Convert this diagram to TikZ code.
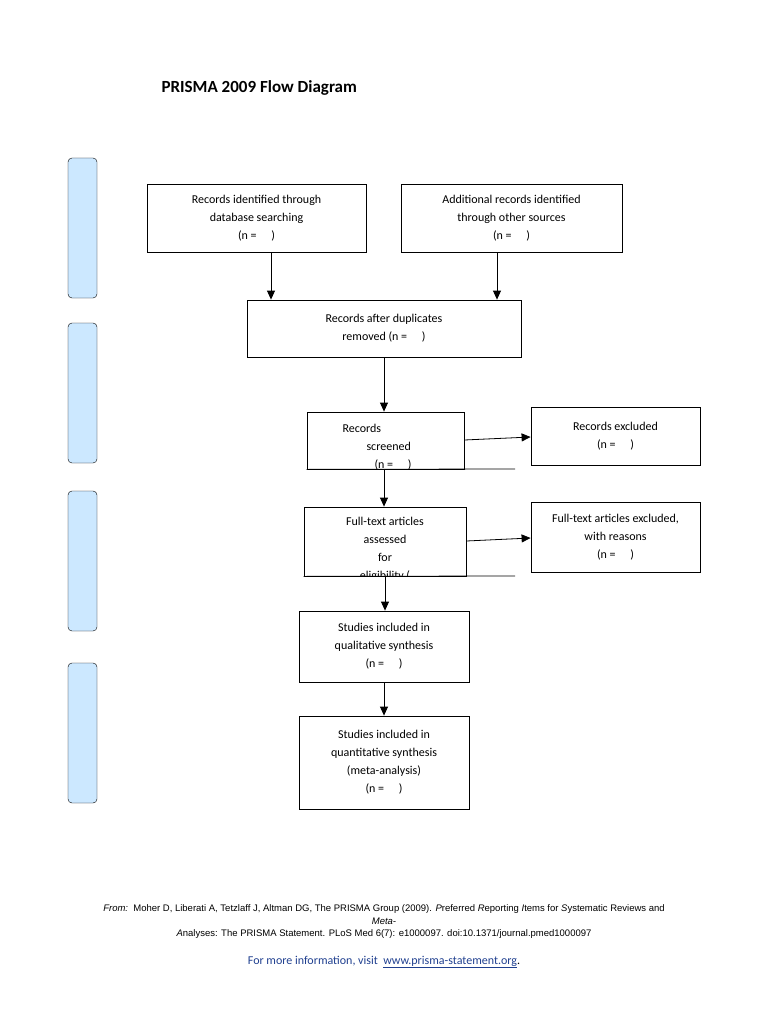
\documentclass[tikz,border=0pt]{standalone}
\usepackage{fontspec}
\setmainfont{Carlito}
\newfontfamily\arialfont{Liberation Sans}
\usetikzlibrary{arrows.meta, positioning}
\definecolor{barblue}{HTML}{CCE8FF}
\definecolor{linkblue}{HTML}{1F3F8F}

\tikzset{
  flowbox/.style={draw, thick, align=center, inner sep=0pt, font=\fontsize{12}{18}\selectfont},
  sidebar/.style={draw, fill=barblue, rounded corners=4pt, minimum width=29pt, minimum height=140pt},
  flow/.style={-{Triangle[length=9pt,width=8pt]}, thick}
}

\begin{document}
\begin{tikzpicture}[x=1pt, y=-1pt]
        \useasboundingbox (0,0) rectangle (768,1024);

        % Title
        \node[anchor=west, font=\bfseries\fontsize{17}{20}\selectfont] (title) at (158,88) {PRISMA 2009 Flow Diagram};

        % Side bars
        \foreach \y [count=\i] in {228,393,561,733}
            \node[sidebar] (bar\i) at (82.5,\y) {};

        % Identification
        \node[flowbox, minimum width=219pt, minimum height=68pt] (dbrec) at (256.5,218) {Records identified through\\database searching\\(n = \quad)};
        \node[flowbox, minimum width=221pt, minimum height=68pt] (otherrec) at (511.5,218) {Additional records identified\\through other sources\\(n = \quad)};
        \node[flowbox, minimum width=274pt, minimum height=57pt] (dedup) at (384,328.5) {Records after duplicates\\removed (n = \quad)};

        % Screening
        \node[draw, thick, minimum width=157pt, minimum height=57pt] (screen) at (385.5,440.5) {};
        \begin{scope}
          \clip (307,412) rectangle (464,469);
          \node[anchor=north west, align=left, font=\fontsize{12}{18}\selectfont] (screentxt) at (339,421) {Records\\\hspace*{24pt}screened\\\hspace*{32pt}(n = \quad)};
        \end{scope}
        \coordinate (screenline) at (515,469);
        \draw[thick] (screen.south west) -- (screenline);
        \node[flowbox, minimum width=169pt, minimum height=58pt] (excl) at (615.5,436) {Records excluded\\(n = \quad)};

        % Eligibility
        \node[draw, thick, minimum width=162pt, minimum height=69pt] (full) at (385,541.5) {};
        \begin{scope}
          \clip (304,507) rectangle (466,576);
          \node[anchor=north, align=center, font=\fontsize{12}{18}\selectfont] (fulltxt) at (385,514) {Full-text articles\\assessed\\for\\eligibility (};
        \end{scope}
        \coordinate (fullline) at (515,576);
        \draw[thick] (full.south west) -- (fullline);
        \node[flowbox, minimum width=169pt, minimum height=70pt] (excl2) at (615.5,537) {Full-text articles excluded,\\with reasons\\(n = \quad)};

        % Included
        \node[flowbox, minimum width=170pt, minimum height=71pt] (qual) at (384,646.5) {Studies included in\\qualitative synthesis\\(n = \quad)};
        \node[flowbox, minimum width=170pt, minimum height=93pt] (quant) at (384,762.5) {Studies included in\\quantitative synthesis\\(meta-analysis)\\(n = \quad)};

        % Connectors
        \draw[flow] (dbrec.south -| 271,0) -- (dedup.north -| 271,0);
        \draw[flow] (otherrec.south -| 497,0) -- (dedup.north -| 497,0);
        \draw[flow] (dedup.south -| 384,0) -- (screen.north -| 384,0);
        \draw[flow] (screen.south -| 384,0) -- (full.north -| 384,0);
        \draw[flow] (full.south -| 385,0) -- (qual.north -| 385,0);
        \draw[flow] (qual) -- (quant);
        \draw[flow] (screen.east |- 0,440) -- (excl.west |- 0,437);
        \draw[flow] (full.east |- 0,541) -- (excl2.west |- 0,538);

        % Footer
        \node[font=\arialfont\fontsize{9.5}{12.5}\selectfont, align=center] (cite) at (384,922)
          {\textit{From:}\ \ Moher D, Liberati A, Tetzlaff J, Altman DG, The PRISMA Group (2009). \textit{P}referred \textit{R}eporting \textit{I}tems for \textit{S}ystematic Reviews and\\\textit{Meta-}\\\textit{A}nalyses: The PRISMA Statement. PLoS Med 6(7): e1000097. doi:10.1371/journal.pmed1000097};
        \node[font=\fontsize{12}{14}\selectfont, text=linkblue] (info) at (384,962)
          {For more information, visit\ \ \underline{www.prisma-statement.org}\textcolor{black}{.}};
    \end{tikzpicture}
\end{document}
